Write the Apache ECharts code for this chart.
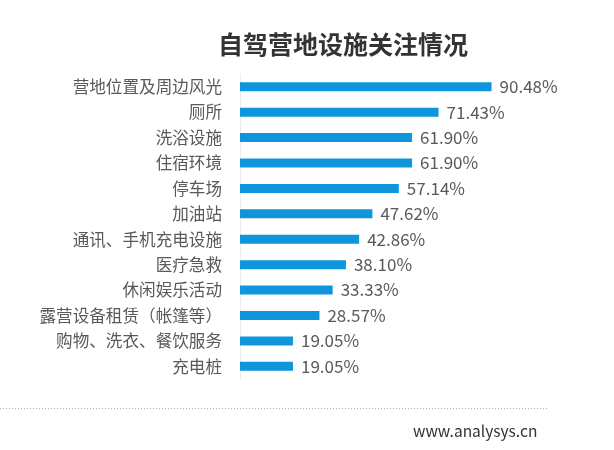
<!DOCTYPE html>
<html>
<head>
<meta charset="utf-8">
<script src="https://cdn.jsdelivr.net/npm/echarts@6/dist/echarts.min.js"></script>
<style>
  html, body { margin: 0; padding: 0; background: #fff; }
  #chart { width: 614px; height: 450px; }
</style>
</head>
<body>
<div id="chart"></div>
<script>
'use strict';
// top to bottom, as in the picture
const categories = [
  '营地位置及周边风光', '厕所', '洗浴设施', '住宿环境', '停车场', '加油站',
  '通讯、手机充电设施', '医疗急救', '休闲娱乐活动', '露营设备租赁（帐篷等）',
  '购物、洗衣、餐饮服务', '充电桩'
];
const values = [90.48, 71.43, 61.90, 61.90, 57.14, 47.62, 42.86, 38.10, 33.33, 28.57, 19.05, 19.05];

const font = '"Microsoft YaHei", "Noto Sans CJK SC", sans-serif';
const chart = echarts.init(document.getElementById('chart'));

chart.setOption({
  animation: false,
  title: {
    text: '自驾营地设施关注情况',
    left: 338,
    textAlign: 'center',
    top: 27,
    textStyle: { fontFamily: font, fontSize: 25, fontWeight: 'bold', color: '#333' }
  },
  grid: { left: 240, top: 74, width: 278, height: 305, containLabel: false },
  xAxis: {
    type: 'value', min: 0, max: 100,
    show: false
  },
  yAxis: {
    type: 'category',
    data: categories,
    inverse: true,
    axisLine: { show: true, lineStyle: { color: '#ececec', width: 1 } },
    axisTick: { show: false },
    axisLabel: { margin: 18, fontFamily: font, fontSize: 16.6, color: '#595959' }
  },
  series: [{
    type: 'bar',
    data: values,
    barWidth: 9,
    itemStyle: { color: '#0f95db' },
    label: {
      show: true, position: 'right', distance: 8,
      fontFamily: font, fontSize: 17, color: '#595959',
      formatter: p => p.value.toFixed(2) + '%'
    }
  }],
  graphic: [
    {
      type: 'line',
      shape: { x1: 0, y1: 408.5, x2: 547, y2: 408.5 },
      style: { stroke: '#b0b0b0', lineWidth: 1, lineDash: [1, 2] }
    },
    {
      type: 'text',
      left: 413, top: 423,
      style: { text: 'www.analysys.cn', font: '15.5px ' + font, fill: '#333' }
    }
  ]
});
</script>
</body>
</html>
